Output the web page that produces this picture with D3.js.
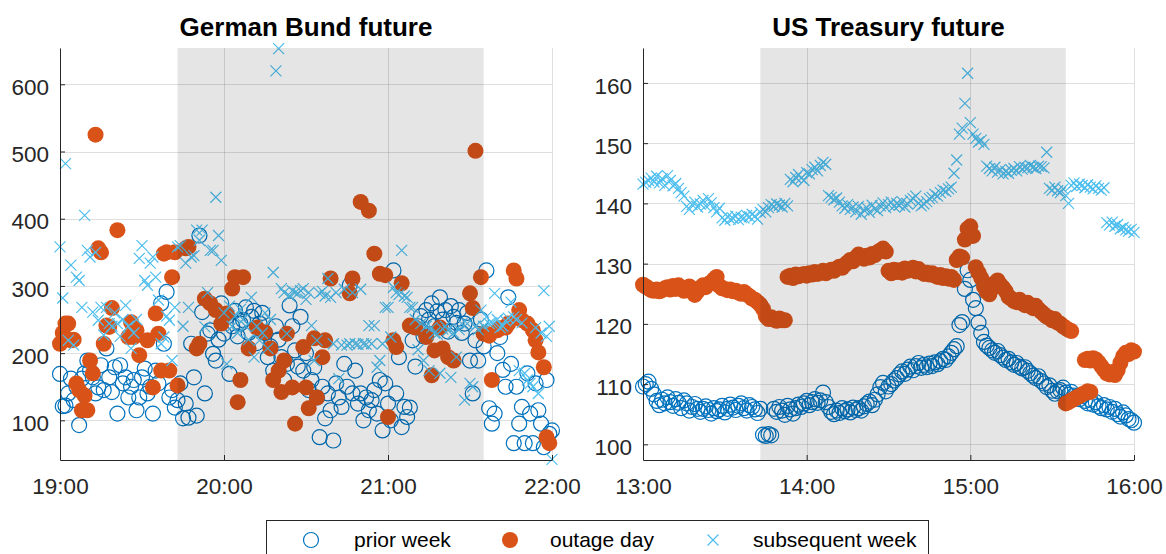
<!DOCTYPE html>
<html><head><meta charset="utf-8">
<script src="https://cdn.jsdelivr.net/npm/d3@7"></script>
<style>body{margin:0;background:#fff}svg{display:block;font-family:"Liberation Sans",Arial,Helvetica,sans-serif}</style>
</head><body><svg id="chart" width="1166" height="554"></svg>
<script>
// ---------- DATA (one value per minute after the first tick; null = no trade) ----------
const bundTickLabels = ["19:00","20:00","21:00","22:00"];
const usTickLabels = ["13:00","14:00","15:00","16:00"];
const tickMinutes = [0,60,120,180];
const bundYTicks = [100,200,300,400,500,600];
const usYTicks = [100,110,120,130,140,150,160];
const shadeWindow = [43,155];
const seriesNames = ["prior week","outage day","subsequent week"];

const bundPrior = [169,121,122,140,162,130,150,93,162,170,
189,174,164,140,149,182,145,207,164,142,
179,110,182,155,164,134,150,160,115,134,
164,177,140,150,110,174,155,274,214,291,
134,145,119,130,155,103,125,104,214,164,
107,375,261,140,229,234,199,189,220,274,
229,254,169,240,263,225,244,249,268,230,
254,263,215,244,260,230,194,210,174,240,
220,194,160,184,271,240,204,180,254,174,
200,145,160,179,134,75,150,103,140,115,
70,155,134,120,184,150,301,140,174,125,
140,100,134,115,130,145,110,160,85,155,
125,100,323,140,194,90,120,105,119,219,
180,240,255,225,264,250,274,240,262,283,
250,264,232,270,254,245,264,230,244,260,
189,140,219,189,250,210,323,118,95,110,
200,224,175,150,283,184,66,150,95,120,
66,170,110,66,155,115,95,60,160,80,
85];

const bundOutage = [214,230,244,244,219,220,155,145,115,137,
115,189,170,525,356,350,214,241,239,267,
null,383,null,null,null,224,246,224,234,197,
null,null,219,null,149,259,229,174,348,350,
174,313,350,152,null,null,356,358,null,null,
207,214,null,281,null,274,null,264,null,244,
null,259,null,296,313,127,160,313,null,207,
null,null,238,null,null,231,null,207,160,null,
174,142,189,229,null,149,95,null,null,209,
149,118,null,222,134,null,194,219,null,311,
null,null,null,null,null,null,289,311,null,null,
425,null,null,412,null,348,null,318,null,316,
105,null,219,209,null,304,null,null,241,null,
238,null,null,null,224,null,167,204,null,238,
207,null,194,null,189,null,null,null,null,null,
289,267,501,null,313,229,229,226,160,null,
234,237,null,238,244,null,323,311,264,249,
null,244,null,234,219,201,null,179,75,66,
null];

const bundSubsequent = [358,282,482,219,331,212,313,308,268,405,
353,343,261,350,249,268,227,268,244,240,
260,244,225,250,271,240,207,230,250,341,
360,308,301,334,343,313,279,214,224,255,
249,189,268,358,360,240,334,268,343,345,
383,368,383,239,290,353,353,432,375,338,
260,184,270,240,255,230,265,250,240,220,
283,194,240,219,230,260,207,250,320,620,
653,296,290,229,285,293,290,289,293,296,
280,290,241,189,219,289,292,285,311,283,
214,290,162,212,295,212,214,290,214,213,
295,214,213,241,214,241,179,189,214,268,
268,224,298,290,287,353,285,283,268,268,
250,205,244,189,240,174,238,230,228,170,
236,240,234,164,230,194,235,244,130,244,
155,150,240,235,264,240,254,244,245,289,
250,238,240,248,252,276,254,250,174,245,
170,160,155,150,238,140,230,293,225,240,
42];

const usPrior = [109.6,110.0,110.4,109.2,108.3,
107.2,106.5,107.4,106.8,107.8,107.0,106.4,107.5,106.9,106.0,107.3,106.8,105.6,106.2,106.7,105.9,
105.4,105.9,106.3,105.7,105.1,106.0,105.5,105.8,106.4,105.3,105.9,106.6,106.1,105.7,106.4,106.8,106.0,105.6,106.5,106.2,105.8,105.2,105.9,
101.6,101.4,101.7,101.5,
105.9,105.4,106.2,105.6,104.9,106.4,105.8,105.1,106.0,106.6,106.2,
106.8,107.2,106.5,107.0,107.5,106.9,107.3,108.6,
107.0,106.2,105.4,105.0,105.6,105.2,106.0,105.5,105.8,105.3,106.1,105.7,106.0,105.6,
106.3,106.7,107.1,106.5,107.4,108.3,109.5,110.2,108.8,109.6,110.0,110.6,
111.0,111.6,112.1,111.7,112.4,112.9,112.3,113.0,113.5,112.7,113.2,112.8,113.4,113.0,113.6,113.3,113.8,114.2,114.0,114.6,
115.2,115.8,116.3,119.8,120.3,
125.8,128.9,127.3,
124.0,122.6,120.2,118.5,117.0,
116.4,116.0,115.6,115.2,115.5,114.8,114.4,114.0,114.2,113.6,113.2,113.5,112.9,112.6,112.8,
112.2,111.8,111.4,111.0,111.3,110.5,110.1,109.5,109.8,108.9,108.4,108.8,
109.0,109.4,108.6,108.2,108.7,108.1,107.9,107.5,108.0,107.2,106.8,107.4,106.6,
107.0,106.3,106.0,106.5,105.8,106.2,105.4,105.9,105.0,104.6,105.3,104.8,104.2,104.0,103.6];

const usSubsequent = [143.2,143.5,143.8,144.2,143.6,144.5,143.4,144.1,143.0,144.6,143.8,142.9,143.3,142.5,141.8,
141.2,139.5,139.0,139.8,140.2,139.4,139.9,140.5,139.6,140.8,140.1,139.3,138.6,139.2,
137.6,137.2,137.8,137.4,137.5,137.9,137.3,137.7,137.6,138.0,137.8,138.2,137.9,137.4,138.5,
139.0,138.6,139.3,139.8,139.5,139.9,139.7,139.4,140.0,139.6,
144.0,143.6,144.3,144.8,144.2,143.8,145.1,144.9,145.6,146.0,145.4,146.3,146.8,146.5,
141.3,141.0,140.6,140.9,140.2,139.6,139.2,139.8,139.0,
139.4,138.6,139.5,138.2,138.9,139.3,138.5,139.7,139.1,138.8,
139.6,140.1,139.3,139.8,140.2,139.5,140.0,139.7,140.3,139.4,139.9,140.5,140.8,141.2,140.0,139.6,139.9,140.3,
140.8,141.0,141.5,141.2,141.8,142.2,142.0,142.4,142.7,
145.0,147.2,151.5,152.5,156.6,161.6,153.4,151.5,150.8,150.2,150.5,149.8,
146.2,145.8,145.4,146.0,145.2,145.6,144.9,145.3,145.0,145.5,145.8,145.4,146.1,145.7,146.0,145.9,146.3,146.0,145.8,146.2,146.1,145.9,
148.5,
142.5,142.2,142.7,142.1,141.8,142.4,141.3,140.0,
143.0,143.4,142.8,143.2,143.0,142.6,143.1,142.7,142.4,142.9,142.5,142.2,142.6,
136.8,136.4,136.9,136.2,136.5,135.8,136.0,135.6,135.4,135.7,135.2];

// outage day on the US future comes in overlapping runs: start minute + values
const usOutageStarts = [0,53,155,162];
const usOutageA = [126.5,126.2,125.9,125.6,125.5,125.7,125.4,125.6,125.9,126.1,
125.7,126.3,125.8,126.4,126.0,125.5,125.8,126.2,125.3,124.8,
125.4,126.0,126.4,126.1,126.6,126.9,127.4,127.8,
126.3,125.9,125.8,125.6,125.7,125.4,125.5,125.2,125.0,125.3,124.9,124.6,124.2,124.0,123.6,123.2,
122.5,121.3,120.8,121.1,120.7,120.5,120.9,120.6,120.6];
const usOutageB = [127.8,128.0,127.6,128.2,127.9,128.1,128.3,128.0,128.4,128.2,128.6,128.3,128.5,128.8,128.4,128.7,129.0,128.8,129.2,129.5,129.3,129.8,
130.2,130.6,130.4,131.0,131.5,131.2,130.8,131.3,131.0,131.6,131.4,131.9,132.2,132.5,132.0,
128.8,128.4,129.0,128.6,128.9,128.5,129.2,128.8,129.0,129.3,128.7,129.1,128.6,128.3,128.5,
128.2,128.4,128.0,127.8,128.1,127.6,127.9,127.5,127.8,127.3,130.6,131.2,
131.0,134.0,135.8,136.2,134.6,
129.4,128.5,127.6,126.2,125.3,124.9,126.0,126.8,127.2,126.5,126.0,125.4,
124.5,124.2,123.8,123.6,124.0,123.4,123.1,123.5,122.9,122.6,123.0,122.4,122.0,121.6,121.2,121.0,120.6,120.8,120.2,120.0,119.6,119.3,119.0,118.8];
const usOutageC = [106.8,107.0,107.3,107.5,107.8,108.0,108.3,108.5,108.8,108.7];
const usOutageD = [114.0,114.2,113.9,114.3,114.1,113.6,113.0,112.4,111.8,111.6,112.0,111.5,112.3,113.5,114.6,115.2,115.0,115.6,115.4];

// ---------- STYLE ----------
const colPrior = "#0072BD", colOutage = "#D95319", colSub = "#4DBEEE", axisCol = "#262626";
const svg = d3.select("#chart");

function pts(arr, start){ return arr.map((v,i)=>({m:(start||0)+i, v})).filter(d=>d.v!=null); }

function panel(cfg){
  const x = d3.scaleLinear().domain([0,180]).range([cfg.x0, cfg.x1]);
  const y = d3.scaleLinear().domain(cfg.yDomain).range([460, 48]);
  const g = svg.append("g");

  // grid
  g.append("g").selectAll("line").data(cfg.yTicks).join("line")
    .attr("x1", cfg.x0).attr("x2", cfg.x1)
    .attr("y1", d=>Math.round(y(d))+0.5).attr("y2", d=>Math.round(y(d))+0.5)
    .attr("stroke", axisCol).attr("stroke-opacity", 0.15).attr("stroke-width", 1);
  g.append("g").selectAll("line").data(tickMinutes).join("line")
    .attr("y1", 48).attr("y2", 460)
    .attr("x1", d=>Math.round(x(d))+0.5).attr("x2", d=>Math.round(x(d))+0.5)
    .attr("stroke", axisCol).attr("stroke-opacity", 0.15).attr("stroke-width", 1);

  // prior week: open circles
  g.append("g").selectAll("circle").data(cfg.prior).join("circle")
    .attr("cx", d=>x(d.m)).attr("cy", d=>y(d.v)).attr("r", 7.5)
    .attr("fill", "none").attr("stroke", colPrior).attr("stroke-width", 1.2);
  // outage day: filled dots
  g.append("g").selectAll("circle").data(cfg.outage).join("circle")
    .attr("cx", d=>x(d.m)).attr("cy", d=>y(d.v)).attr("r", 8)
    .attr("fill", colOutage);
  // subsequent week: crosses
  g.append("g").selectAll("path").data(cfg.sub).join("path")
    .attr("transform", d=>`translate(${x(d.m)},${y(d.v)})`)
    .attr("d", "M-5.5,-5.5L5.5,5.5M-5.5,5.5L5.5,-5.5")
    .attr("fill", "none").attr("stroke", colSub).attr("stroke-width", 1.2);

  // shaded outage window (translucent, on top)
  g.append("rect")
    .attr("x", x(shadeWindow[0])).attr("width", x(shadeWindow[1]) - x(shadeWindow[0]))
    .attr("y", 48).attr("height", 412)
    .attr("fill", "#000").attr("fill-opacity", 0.1);

  // axes
  const ya = g.append("g").attr("transform", `translate(${cfg.x0},0)`)
    .call(d3.axisLeft(y).tickValues(cfg.yTicks).tickFormat(d3.format("d"))
      .tickSizeInner(-5).tickSizeOuter(0).tickPadding(11));
  const xa = g.append("g").attr("transform", `translate(0,460)`)
    .call(d3.axisBottom(x).tickValues(tickMinutes).tickFormat((d,i)=>cfg.xLabels[i])
      .tickSizeInner(-5).tickSizeOuter(0).tickPadding(18));
  [ya, xa].forEach(a=>{
    a.select(".domain").attr("stroke", axisCol).attr("stroke-width", 1);
    a.selectAll(".tick line").attr("stroke", axisCol);
    a.selectAll(".tick text").attr("fill", axisCol).style("font-size", "22.5px")
      .style("font-family", '"Liberation Sans",Arial,sans-serif');
  });
  ya.selectAll(".tick text").attr("dy", "0.45em");

  g.append("text").attr("x", (cfg.x0+cfg.x1)/2).attr("y", 36)
    .attr("text-anchor", "middle").attr("font-weight", "bold")
    .attr("font-size", "26px").attr("fill", "#000").text(cfg.title);
}

panel({x0:60, x1:552, yDomain:[41,654], yTicks:bundYTicks, xLabels:bundTickLabels,
  title:"German Bund future",
  prior:pts(bundPrior), outage:pts(bundOutage), sub:pts(bundSubsequent)});

const usOutage = [usOutageA, usOutageB, usOutageC, usOutageD]
  .flatMap((arr,k)=>pts(arr, usOutageStarts[k]));
panel({x0:643, x1:1134, yDomain:[97.4,165.8], yTicks:usYTicks, xLabels:usTickLabels,
  title:"US Treasury future",
  prior:pts(usPrior), outage:usOutage, sub:pts(usSubsequent)});

// ---------- LEGEND ----------
const lg = svg.append("g");
lg.append("rect").attr("x", 266.5).attr("y", 520.5).attr("width", 662).attr("height", 45)
  .attr("fill", "#fff").attr("stroke", axisCol).attr("stroke-width", 1);
const itemX = [311, 510, 713];
const textX = [354, 550, 753];
lg.append("circle").attr("cx", itemX[0]).attr("cy", 540).attr("r", 7.5)
  .attr("fill", "none").attr("stroke", colPrior).attr("stroke-width", 1.2);
lg.append("circle").attr("cx", itemX[1]).attr("cy", 540).attr("r", 8).attr("fill", colOutage);
lg.append("path").attr("transform", `translate(${itemX[2]},540)`)
  .attr("d", "M-5.5,-5.5L5.5,5.5M-5.5,5.5L5.5,-5.5")
  .attr("fill", "none").attr("stroke", colSub).attr("stroke-width", 1.2);
lg.selectAll("text.lab").data(seriesNames).join("text").attr("class", "lab")
  .attr("x", (d,i)=>textX[i]).attr("y", 547).attr("font-size", "21px").attr("fill", "#000").text(d=>d);
</script></body></html>
